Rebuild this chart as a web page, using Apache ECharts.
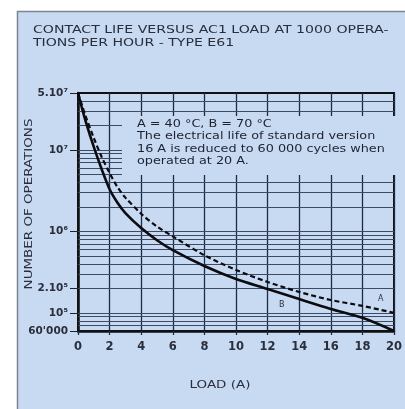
<!DOCTYPE html>
<html><head><meta charset="utf-8">
<script src="https://cdn.jsdelivr.net/npm/echarts@6/dist/echarts.min.js"></script>
<style>html,body{margin:0;padding:0;background:#fff}#c{width:405px;height:409px}</style>
</head><body><div id="c"></div>
<script>
// Load in amperes
const loads = [0, 0.25, 0.5, 1, 1.5, 2, 2.5, 3, 4, 5, 6, 8, 10, 12, 14, 16, 18, 20];
// Curve B (70 °C), solid
const lifeB = [5.0e7, 3.27e7, 2.2e7, 1.09e7, 5.8e6, 3.3e6, 2.25e6, 1.68e6, 1.1e6, 7.8e5, 5.9e5, 3.77e5, 2.61e5, 1.97e5, 1.48e5, 1.12e5, 8.7e4, 6.0e4];
// Curve A (40 °C), dashed
const lifeA = [5.0e7, 3.56e7, 2.54e7, 1.4e7, 8.2e6, 5.2e6, 3.5e6, 2.6e6, 1.65e6, 1.15e6, 8.7e5, 5.1e5, 3.37e5, 2.4e5, 1.81e5, 1.44e5, 1.22e5, 1.0e5];
// Y axis tick values and labels
const yTickValues = [5e7, 1e7, 1e6, 2e5, 1e5, 6e4];
const yTickLabels = ['5.10\u2077', '10\u2077', '10\u2076', '2.10\u2075', '10\u2075', "60'000"];
// Log-paper horizontal rulings
const rulingValues = [7e4, 8e4, 9e4, 1e5, 2e5, 3e5, 4e5, 5e5, 6e5, 7e5, 8e5, 9e5,
  1e6, 2e6, 3e6, 4e6, 5e6, 6e6, 7e6, 8e6, 9e6, 1e7, 2e7, 3e7, 4e7];
const titleText = 'CONTACT LIFE VERSUS AC1 LOAD AT 1000 OPERA-\nTIONS PER HOUR - TYPE E61';
const noteText = 'A = 40 \u00B0C, B = 70 \u00B0C\nThe electrical life of standard version\n16 A is reduced to 60 000 cycles when\noperated at 20 A.';
const xName = 'LOAD (A)';
const yName = 'NUMBER OF OPERATIONS';

const panel = '#c8daf2';
const ink = '#2a2e3b';
const wide = 1.28;
const chart = echarts.init(document.getElementById('c'), null, {renderer: 'canvas'});
const labelMap = {};
yTickValues.forEach((v, i) => labelMap[v] = yTickLabels[i]);

chart.setOption({
  backgroundColor: '#ffffff',
  animation: false,
  graphic: [
    {type: 'rect', z: -10, shape: {x: 17.5, y: 11.5, width: 400, height: 410},
     style: {fill: panel, stroke: '#7d838f', lineWidth: 1.5}},
    {type: 'text', z: 51, x: 33, y: 24, scaleX: wide,
     style: {text: titleText, fontSize: 11, lineHeight: 13, fill: ink, fontFamily: 'DejaVu Sans'}},
    {type: 'rect', z: 50, shape: {x: 122, y: 116, width: 276, height: 59},
     style: {fill: panel}},
    {type: 'text', z: 51, x: 137, y: 118, scaleX: wide,
     style: {text: noteText, fontSize: 10, lineHeight: 12.4, fill: '#1e2230', fontFamily: 'DejaVu Sans'}},
    {type: 'text', z: 51, x: 220, y: 385, scaleX: wide,
     style: {text: xName, fontSize: 10.5, fill: ink, fontFamily: 'DejaVu Sans', align: 'center', verticalAlign: 'middle'}},
    {type: 'text', z: 51, x: 29, y: 204, scaleX: wide, rotation: Math.PI / 2,
     style: {text: yName, fontSize: 10.5, fill: ink, fontFamily: 'DejaVu Sans', align: 'center', verticalAlign: 'middle'}},
    {type: 'text', z: 51, x: 378, y: 295, style: {text: 'A', fontSize: 8, fill: ink, fontFamily: 'DejaVu Sans'}},
    {type: 'text', z: 51, x: 279, y: 301, style: {text: 'B', fontSize: 8, fill: ink, fontFamily: 'DejaVu Sans'}}
  ],
  grid: {left: 78, right: 5, top: 93, bottom: 78, show: true, borderColor: '#111', borderWidth: 2, backgroundColor: 'transparent'},
  xAxis: {
    type: 'value', min: 0, max: 20, interval: 2,
    axisLine: {show: true, onZero: false, lineStyle: {color: '#111', width: 2.5}},
    axisTick: {show: true, length: 4, lineStyle: {color: '#1e2a44', width: 1.3}},
    axisLabel: {fontSize: 11.5, fontWeight: 'bold', color: ink, margin: 10, fontFamily: 'DejaVu Sans'},
    splitLine: {show: true, lineStyle: {color: '#1e2a44', width: 1.3}}
  },
  yAxis: {
    type: 'log', logBase: 10, min: 6e4, max: 5e7,
    axisLine: {show: true, lineStyle: {color: '#111', width: 2.5}},
    axisTick: {show: true, length: 8, customValues: yTickValues, lineStyle: {color: '#222', width: 1}},
    axisLabel: {
      customValues: yTickValues, fontSize: 10.5, fontWeight: 'bold', color: ink, margin: 10,
      fontFamily: 'DejaVu Sans', formatter: v => labelMap[v] !== undefined ? labelMap[v] : ''
    },
    splitLine: {show: false}
  },
  series: [
    {
      name: 'rulings', type: 'line', data: [], silent: true,
      markLine: {
        silent: true, symbol: ['none', 'none'], label: {show: false}, animation: false,
        lineStyle: {type: 'solid', color: '#3d4a66', width: 1},
        data: rulingValues.map(v => ({yAxis: v}))
      }
    },
    {
      name: 'B', type: 'line', smooth: 0.3, showSymbol: false, z: 5,
      data: loads.map((x, i) => [x, lifeB[i]]),
      lineStyle: {color: '#0c0c10', width: 2.6}
    },
    {
      name: 'A', type: 'line', smooth: 0.3, showSymbol: false, z: 5,
      data: loads.map((x, i) => [x, lifeA[i]]),
      lineStyle: {color: '#0c0c10', width: 2.2, type: [5, 3]}
    }
  ]
});
</script></body></html>
